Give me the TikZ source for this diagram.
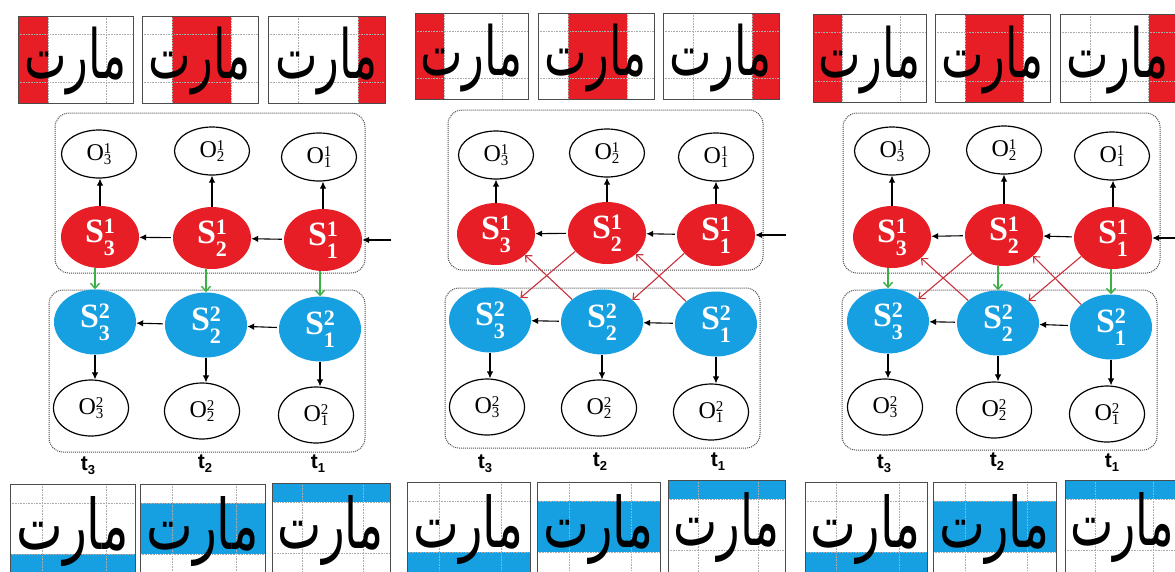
\documentclass[tikz,border=0pt]{standalone}
\usepackage{fontspec}
\setmainfont{Liberation Serif}
\usetikzlibrary{arrows.meta,shapes.geometric}
\TeXXeTstate=1
\newfontfamily\arabicfont[Script=Arabic]{DejaVu Sans}
\newfontfamily\tfont{Liberation Sans}
\definecolor{hred}{RGB}{232,30,38}
\definecolor{hblue}{RGB}{22,160,225}
\definecolor{xred}{RGB}{200,50,60}
\definecolor{xgreen}{RGB}{60,175,70}
\tikzset{
  hwgrid/.style={gray!65, densely dotted, line width=0.6pt},
  hwframe/.style={draw=gray!60!black, line width=1pt},
  hwtext/.style={inner sep=0pt},
  obsT/.style={ellipse, draw=black, line width=1.2pt, fill=white, minimum width=75pt, minimum height=48pt, inner sep=0pt, font=\fontsize{24}{24}\selectfont},
  obsB/.style={ellipse, draw=black, line width=1.2pt, fill=white, minimum width=75pt, minimum height=56pt, inner sep=0pt, font=\fontsize{24}{24}\selectfont},
  stR/.style={ellipse, fill=hred, minimum width=78pt, minimum height=62pt, inner sep=0pt, text=white, font=\fontsize{34}{34}\selectfont},
  stB/.style={ellipse, fill=hblue, minimum width=82pt, minimum height=65pt, inner sep=0pt, text=white, font=\fontsize{34}{34}\selectfont},
  grp/.style={draw=gray!60!black, densely dotted, line width=1pt, rounded corners=14pt},
  harr/.style={-{Latex[length=7pt,width=6.5pt]}, line width=1.1pt, black},
  garr/.style={-{Straight Barb[length=5pt,width=9pt]}, line width=1.4pt, xgreen},
  xarr/.style={-{Straight Barb[length=5pt,width=9pt]}, line width=1.1pt, xred},
  tlab/.style={inner sep=0pt, font=\tfont\bfseries\fontsize{21}{21}\selectfont}
}
% #1 name, #2 x, #3 y (top), #4 width, #5 height, #6 strip code, #7 text width, #8 text height
\newcommand\hwbox[8]{%
\begin{scope}[shift={(#2,#3)},x=#4pt,y=-#5pt]
#6
\draw[hwgrid] (0.26,0) -- (0.26,1) (0.77,0) -- (0.77,1) (0,0.21) -- (1,0.21) (0,0.76) -- (1,0.76);
\node[hwtext] (#1) at (0.5,0.52) {\resizebox*{#7pt}{#8pt}{\arabicfont\beginR مارت\endR}};
\draw[hwframe] (0,0) rectangle (1,1);
\end{scope}}
\newcommand\Olab[2]{O\makebox[0pt][l]{\raisebox{7.5pt}{\fontsize{15}{15}\selectfont #1}}\raisebox{-4pt}{\fontsize{15}{15}\selectfont #2}}
\newcommand\Slab[2]{\bfseries S\makebox[0pt][l]{\raisebox{9pt}{\fontsize{22}{22}\selectfont #1}}\raisebox{-13pt}{\fontsize{22}{22}\selectfont #2}}
\newcommand\tl[1]{t\raisebox{-4pt}{\fontsize{13}{13}\selectfont #1}}
\begin{document}
\begin{tikzpicture}[x=1pt,y=-1pt]
\useasboundingbox (0,0) rectangle (1175,571);
\clip (0,0) rectangle (1175,571);
\fill[white] (0,0) rectangle (1175,571);
% ---------- handwriting images, top ----------
\hwbox{hA1}{18}{16}{115}{87}{\fill[hred] (0,0) rectangle (0.26,1);}{102}{68}
\hwbox{hA2}{142}{16}{116}{87}{\fill[hred] (0.26,0) rectangle (0.77,1);}{102}{68}
\hwbox{hA3}{268}{16}{117}{87}{\fill[hred] (0.77,0) rectangle (1,1);}{102}{68}
\hwbox{hB1}{415}{13}{113}{86}{\fill[hred] (0,0) rectangle (0.26,1);}{102}{68}
\hwbox{hB2}{538}{13}{116}{86}{\fill[hred] (0.26,0) rectangle (0.77,1);}{102}{68}
\hwbox{hB3}{663}{13}{116}{86}{\fill[hred] (0.77,0) rectangle (1,1);}{102}{68}
\hwbox{hC1}{813}{14}{113}{88}{\fill[hred] (0,0) rectangle (0.26,1);}{102}{68}
\hwbox{hC2}{935}{14}{115}{88}{\fill[hred] (0.26,0) rectangle (0.77,1);}{102}{68}
\hwbox{hC3}{1060}{14}{115}{88}{\fill[hred] (0.77,0) rectangle (1,1);}{102}{68}
% ---------- handwriting images, bottom ----------
\hwbox{lA1}{10}{484}{125}{92}{\fill[hblue] (0,0.76) rectangle (1,1);}{112}{70}
\hwbox{lA2}{140}{484}{125}{92}{\fill[hblue] (0,0.21) rectangle (1,0.76);}{112}{70}
\hwbox{lA3}{272}{483}{118}{92}{\fill[hblue] (0,0) rectangle (1,0.21);}{106}{70}
\hwbox{lB1}{407}{482}{123}{92}{\fill[hblue] (0,0.76) rectangle (1,1);}{110}{70}
\hwbox{lB2}{537}{482}{123}{92}{\fill[hblue] (0,0.21) rectangle (1,0.76);}{110}{70}
\hwbox{lB3}{668}{480}{117}{92}{\fill[hblue] (0,0) rectangle (1,0.21);}{106}{70}
\hwbox{lC1}{805}{482}{122}{92}{\fill[hblue] (0,0.76) rectangle (1,1);}{110}{70}
\hwbox{lC2}{933}{482}{123}{92}{\fill[hblue] (0,0.21) rectangle (1,0.76);}{110}{70}
\hwbox{lC3}{1065}{480}{115}{92}{\fill[hblue] (0,0) rectangle (1,0.21);}{104}{70}
% ================= panel A =================
\draw[grp] (55,113) rectangle (365,273);
\draw[grp] (49,290) rectangle (365,452);
\node[obsT] (aO13) at (99,154) {\Olab13};
\node[obsT] (aO12) at (212,151) {\Olab12};
\node[obsT] (aO11) at (319,157) {\Olab11};
\node[stR] (aS13) at (100,237) {\Slab13};
\node[stR] (aS12) at (212,238) {\Slab12};
\node[stR] (aS11) at (323,240) {\Slab11};
\node[stB] (aS23) at (95,322) {\Slab23};
\node[stB] (aS22) at (206,325) {\Slab22};
\node[stB] (aS21) at (320,329) {\Slab21};
\node[obsB] (aO23) at (91,408) {\Olab23};
\node[obsB] (aO22) at (202,411) {\Olab22};
\node[obsB] (aO21) at (316,415) {\Olab21};
\node[tlab] (at3) at (88,466) {\tl3};
\node[tlab] (at2) at (205,464) {\tl2};
\node[tlab] (at1) at (318,464) {\tl1};
\coordinate (ain) at (391,240);
\draw[harr] (ain) -- (aS11);
\draw[harr, shorten <=2pt] (aS11) -- (aS12);
\draw[harr, shorten <=2pt] (aS12) -- (aS13);
\draw[harr, shorten <=2pt] (aS21) -- (aS22);
\draw[harr, shorten <=2pt] (aS22) -- (aS23);
\foreach \i in {1,2,3}{
  \draw[harr] (aS1\i.north) -- (aS1\i.north |- aO1\i.south);
  \draw[harr] (aS2\i.south) -- (aS2\i.south |- aO2\i.north);
  \draw[garr] (aS2\i.north |- aS1\i.south) -- (aS2\i.north);
}
% ================= panel B =================
\draw[grp] (448,110) rectangle (763,270);
\draw[grp] (445,288) rectangle (760,448);
\node[obsT] (bO13) at (496,155) {\Olab13};
\node[obsT] (bO12) at (607,153) {\Olab12};
\node[obsT] (bO11) at (716,157) {\Olab11};
\node[stR] (bS13) at (496,234) {\Slab13};
\node[stR] (bS12) at (607,233) {\Slab12};
\node[stR] (bS11) at (716,235) {\Slab11};
\node[stB] (bS23) at (490,320) {\Slab23};
\node[stB] (bS22) at (602,322) {\Slab22};
\node[stB] (bS21) at (716,324) {\Slab21};
\node[obsB] (bO23) at (487,407) {\Olab23};
\node[obsB] (bO22) at (599,408) {\Olab22};
\node[obsB] (bO21) at (711,412) {\Olab21};
\node[tlab] (bt3) at (485,464) {\tl3};
\node[tlab] (bt2) at (600,462) {\tl2};
\node[tlab] (bt1) at (718,462) {\tl1};
\coordinate (bin) at (786,235);
\draw[harr] (bin) -- (bS11);
\draw[harr, shorten <=2pt] (bS11) -- (bS12);
\draw[harr, shorten <=2pt] (bS12) -- (bS13);
\draw[harr, shorten <=2pt] (bS21) -- (bS22);
\draw[harr, shorten <=2pt] (bS22) -- (bS23);
\foreach \i in {1,2,3}{
  \draw[harr] (bS1\i.north) -- (bS1\i.north |- bO1\i.south);
  \draw[harr] (bS2\i.south) -- (bS2\i.south |- bO2\i.north);
}
\draw[xarr] (bS12.210) -- (bS23.36);
\draw[xarr] (bS22.143) -- (bS13.324);
\draw[xarr] (bS11.210) -- (bS22.36);
\draw[xarr] (bS21.143) -- (bS12.324);
% ================= panel C =================
\draw[grp] (843,113) rectangle (1160,273);
\draw[grp] (842,290) rectangle (1157,450);
\node[obsT] (cO13) at (892,151) {\Olab13};
\node[obsT] (cO12) at (1004,150) {\Olab12};
\node[obsT] (cO11) at (1112,156) {\Olab11};
\node[stR] (cS13) at (892,237) {\Slab13};
\node[stR] (cS12) at (1004,235) {\Slab12};
\node[stR] (cS11) at (1113,238) {\Slab11};
\node[stB] (cS23) at (888,321) {\Slab23};
\node[stB] (cS22) at (998,323) {\Slab22};
\node[stB] (cS21) at (1111,327) {\Slab21};
\node[obsB] (cO23) at (885,407) {\Olab23};
\node[obsB] (cO22) at (994,410) {\Olab22};
\node[obsB] (cO21) at (1107,414) {\Olab21};
\node[tlab] (ct3) at (884,464) {\tl3};
\node[tlab] (ct2) at (997,462) {\tl2};
\node[tlab] (ct1) at (1112,463) {\tl1};
\coordinate (cin) at (1178,238);
\draw[harr] (cin) -- (cS11);
\draw[harr, shorten <=2pt] (cS11) -- (cS12);
\draw[harr, shorten <=2pt] (cS12) -- (cS13);
\draw[harr, shorten <=2pt] (cS21) -- (cS22);
\draw[harr, shorten <=2pt] (cS22) -- (cS23);
\foreach \i in {1,2,3}{
  \draw[harr] (cS1\i.north) -- (cS1\i.north |- cO1\i.south);
  \draw[harr] (cS2\i.south) -- (cS2\i.south |- cO2\i.north);
  \draw[garr] (cS2\i.north |- cS1\i.south) -- (cS2\i.north);
}
\draw[xarr] (cS12.210) -- (cS23.36);
\draw[xarr] (cS22.143) -- (cS13.324);
\draw[xarr] (cS11.210) -- (cS22.36);
\draw[xarr] (cS21.143) -- (cS12.324);
\end{tikzpicture}
\end{document}
